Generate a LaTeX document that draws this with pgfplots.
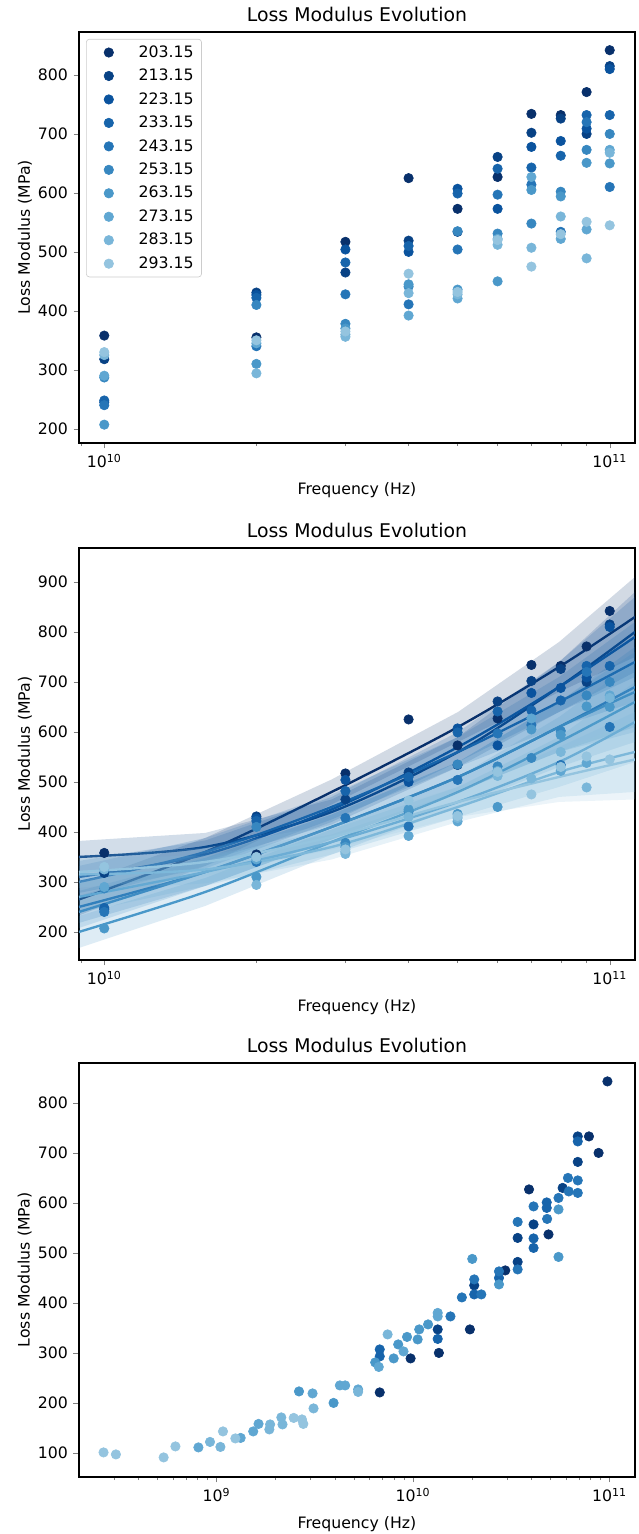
\documentclass[border=0pt]{standalone}
\usepackage{fontspec}
\setmainfont{DejaVu Sans}
\usepackage{pgfplots}
\pgfplotsset{compat=1.18}
\usepackage{pgfplotstable}

\definecolor{cT0}{RGB}{8,48,107}
\definecolor{cT1}{RGB}{8,66,133}
\definecolor{cT2}{RGB}{10,83,158}
\definecolor{cT3}{RGB}{23,100,171}
\definecolor{cT4}{RGB}{37,117,183}
\definecolor{cT5}{RGB}{55,135,192}
\definecolor{cT6}{RGB}{74,152,201}
\definecolor{cT7}{RGB}{96,167,210}
\definecolor{cT8}{RGB}{121,182,217}
\definecolor{cT9}{RGB}{148,196,223}

\pgfplotstableread{
f T0 T1 T2 T3 T4 T5 T6 T7 T8 T9
1e10 358 318 245 248 240 287 207 290 325 330
2e10 355 431 427 422 340 410 310 345 294 350
3e10 517 465 504 482 428 378 370 360 356 365
4e10 625 519 500 510 411 441 445 392 430 463
5e10 573 534 607 599 504 535 436 421 428 432
6e10 627 661 573 641 597 531 450 522 512 520
7e10 734 702 678 643 614 548 605 627 507 475
8e10 732 726 688 663 534 602 594 522 560 530
9e10 771 700 709 732 720 673 651 538 489 551
1e11 842 815 810 732 610 700 650 673 668 545
}\datA

\pgfplotstableread{
lx T0 T1 T2 T3 T4 T5 T6 T7 T8 T9
9.95 265 350 310 300 250 240 200 270 315 320
10.2 360 370 355 360 320 320 280 320 325 340
10.45 480 440 445 450 410 410 380 380 370 390
10.7 610 560 570 560 510 510 480 460 450 460
10.9 730 690 690 660 610 610 580 540 520 510
11.05 830 800 790 740 690 680 660 620 560 545
}\fitT

\pgfplotstableread{
lx s w T0 T1 T2 T3 T4 T5 T6 T7 T8 T9
9.95 1 32 265 350 310 300 250 240 200 270 315 320
10.2 1 28 360 370 355 360 320 320 280 320 325 340
10.45 1 25 480 440 445 450 410 410 380 380 370 390
10.7 1 30 610 560 570 560 510 510 480 460 450 460
10.9 1 50 730 690 690 660 610 610 580 540 520 510
11.05 1 80 830 800 790 740 690 680 660 620 560 545
11.05 -1 80 830 800 790 740 690 680 660 620 560 545
10.9 -1 50 730 690 690 660 610 610 580 540 520 510
10.7 -1 30 610 560 570 560 510 510 480 460 450 460
10.45 -1 25 480 440 445 450 410 410 380 380 370 390
10.2 -1 28 360 370 355 360 320 320 280 320 325 340
9.95 -1 32 265 350 310 300 250 240 200 270 315 320
}\bandT

\pgfplotstableread{
lx v
10.99 843
10.896 733
10.945 700
10.591 627
10.690 537
10.470 465
10.290 347
10.132 300
9.831 221
9.988 289
}\gA
\pgfplotstableread{
lx v
10.839 733
10.762 630
10.614 557
10.533 530
10.533 482
10.312 435
10.126 347
10.839 682
}\gB
\pgfplotstableread{
lx v
10.839 723
10.681 601
10.681 590
10.614 529
10.614 510
10.438 450
10.312 417
10.126 328
9.831 307
9.831 293
}\gC
\pgfplotstableread{
lx v
10.789 650
10.839 645
10.793 623
10.839 620
10.741 610
10.683 568
10.533 467
10.438 463
10.312 447
10.249 411
10.348 417
10.191 373
10.533 562
10.614 593
}\gD
\pgfplotstableread{
lx v
10.741 587
10.741 492
10.302 488
10.438 437
10.077 357
10.032 347
10.024 327
9.970 332
9.925 317
9.902 289
9.420 223
9.596 200
9.808 281
}\gE
\pgfplotstableread{
lx v
10.126 380
10.126 373
9.952 303
9.826 272
9.628 235
9.655 235
9.489 219
9.721 227
9.187 143
9.214 158
9.123 130
8.908 111
}\gF
\pgfplotstableread{
lx v
9.871 337
9.721 222
9.494 189
9.273 157
9.330 171
9.336 157
9.269 147
8.967 122
9.02 112
}\gG
\pgfplotstableread{
lx v
9.393 170
9.435 167
9.442 158
9.096 129
9.033 143
8.791 113
8.731 91
8.425 101
8.488 97
}\gH

\pgfplotsset{every axis/.append style={
    scale only axis, width=353.6pt,
    title style={font=\fontsize{12}{14}\selectfont, yshift=-3pt},
    label style={font=\fontsize{10}{12}\selectfont},
    tick label style={font=\fontsize{10}{12}\selectfont},
    xlabel shift=2.5pt, ylabel shift=-3pt,
    tick align=outside, tick pos=left,
    major tick length=3.5pt, minor tick length=2pt,
    axis line style={line width=0.8pt},
  }}

\begin{document}
\begin{tikzpicture}
\path[use as bounding box] (0,0) rectangle (405.8pt,975.6pt);

% ---------- panel 1 ----------
\begin{semilogxaxis}[at={(50.2pt,693.9pt)}, anchor=south west, height=261.4pt,
  title={Loss Modulus Evolution}, xlabel={Frequency (Hz)}, ylabel={Loss Modulus (MPa)},
  /pgf/number format/assume math mode=true,
  xmin=8.913e9, xmax=1.122e11, ymin=176, ymax=873,
  xtick={1e10,1e11}, xticklabels={10\textsuperscript{10},10\textsuperscript{11}},
  minor xtick={9e9,2e10,3e10,4e10,5e10,6e10,7e10,8e10,9e10},
  ytick={200,300,...,800},
  legend cell align=left,
  legend image code/.code={\path[draw=none,fill=none] (0pt,0pt) -- (8.3pt,0pt); \draw[#1] plot coordinates {(11.3pt,0pt)};},
  legend style={at={(0.0126,0.983)}, anchor=north west, draw=black!20, rounded corners=2pt,
    fill=white, font=\fontsize{10}{12}\selectfont, row sep=2pt,
    /tikz/every odd column/.append style={column sep=14pt}},
]
\addplot[only marks, mark=*, mark size=3pt, color=cT0] table[x=f,y=T0]{\datA};
\addplot[only marks, mark=*, mark size=3pt, color=cT1] table[x=f,y=T1]{\datA};
\addplot[only marks, mark=*, mark size=3pt, color=cT2] table[x=f,y=T2]{\datA};
\addplot[only marks, mark=*, mark size=3pt, color=cT3] table[x=f,y=T3]{\datA};
\addplot[only marks, mark=*, mark size=3pt, color=cT4] table[x=f,y=T4]{\datA};
\addplot[only marks, mark=*, mark size=3pt, color=cT5] table[x=f,y=T5]{\datA};
\addplot[only marks, mark=*, mark size=3pt, color=cT6] table[x=f,y=T6]{\datA};
\addplot[only marks, mark=*, mark size=3pt, color=cT7] table[x=f,y=T7]{\datA};
\addplot[only marks, mark=*, mark size=3pt, color=cT8] table[x=f,y=T8]{\datA};
\addplot[only marks, mark=*, mark size=3pt, color=cT9] table[x=f,y=T9]{\datA};
\legend{203.15,213.15,223.15,233.15,243.15,253.15,263.15,273.15,283.15,293.15}
\end{semilogxaxis}

% ---------- panel 2 ----------
\begin{semilogxaxis}[at={(50.2pt,365.1pt)}, anchor=south west, height=262pt,
  title={Loss Modulus Evolution}, xlabel={Frequency (Hz)}, ylabel={Loss Modulus (MPa)},
  /pgf/number format/assume math mode=true,
  xmin=8.913e9, xmax=1.122e11, ymin=144, ymax=968,
  xtick={1e10,1e11}, xticklabels={10\textsuperscript{10},10\textsuperscript{11}},
  minor xtick={9e9,2e10,3e10,4e10,5e10,6e10,7e10,8e10,9e10},
  ytick={200,300,...,900},
]
\pgfplotsinvokeforeach{0,...,9}{
  \addplot[only marks, mark=*, mark size=3pt, color=cT#1] table[x=f,y=T#1]{\datA};
  \addplot[fill=cT#1, fill opacity=0.18, draw=none] table[x expr={10^(\thisrow{lx})}, y expr={\thisrow{T#1}+\thisrow{s}*\thisrow{w}}]{\bandT};
  \addplot[color=cT#1, line width=1.5pt, smooth] table[x expr={10^(\thisrow{lx})}, y=T#1]{\fitT};
}
\end{semilogxaxis}

% ---------- panel 3 ----------
\begin{semilogxaxis}[at={(50.2pt,36.3pt)}, anchor=south west, height=263.3pt,
  title={Loss Modulus Evolution}, xlabel={Frequency (Hz)}, ylabel={Loss Modulus (MPa)},
  /pgf/number format/assume math mode=true,
  xmin=1.995e8, xmax=1.349e11, ymin=52, ymax=880,
  xtick={1e9,1e10,1e11}, xticklabels={10\textsuperscript{9},10\textsuperscript{10},10\textsuperscript{11}},
  minor xtick={3e8,4e8,5e8,6e8,7e8,8e8,9e8,2e9,3e9,4e9,5e9,6e9,7e9,8e9,9e9,2e10,3e10,4e10,5e10,6e10,7e10,8e10,9e10},
  ytick={100,200,...,800},
]
\addplot[only marks, mark=*, mark size=3pt, color=cT0] table[x expr={10^(\thisrow{lx})}, y=v]{\gA};
\addplot[only marks, mark=*, mark size=3pt, color=cT1] table[x expr={10^(\thisrow{lx})}, y=v]{\gB};
\addplot[only marks, mark=*, mark size=3pt, color=cT3] table[x expr={10^(\thisrow{lx})}, y=v]{\gC};
\addplot[only marks, mark=*, mark size=3pt, color=cT4] table[x expr={10^(\thisrow{lx})}, y=v]{\gD};
\addplot[only marks, mark=*, mark size=3pt, color=cT6] table[x expr={10^(\thisrow{lx})}, y=v]{\gE};
\addplot[only marks, mark=*, mark size=3pt, color=cT7] table[x expr={10^(\thisrow{lx})}, y=v]{\gF};
\addplot[only marks, mark=*, mark size=3pt, color=cT8] table[x expr={10^(\thisrow{lx})}, y=v]{\gG};
\addplot[only marks, mark=*, mark size=3pt, color=cT9] table[x expr={10^(\thisrow{lx})}, y=v]{\gH};
\end{semilogxaxis}
\end{tikzpicture}
\end{document}
